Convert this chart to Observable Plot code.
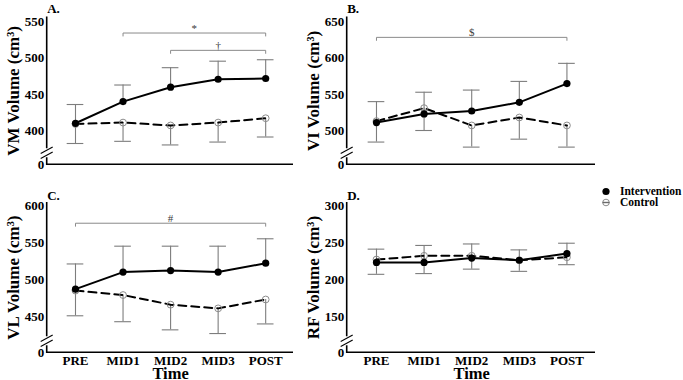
<!DOCTYPE html>
<html>
<head>
<meta charset="utf-8">
<script src="https://cdn.jsdelivr.net/npm/d3@7"></script>
<script src="https://cdn.jsdelivr.net/npm/@observablehq/plot@0.6"></script>
<style>
  body { margin: 0; background: #fff; }
  #figure { position: relative; width: 683px; height: 380px; overflow: hidden; background: #fff; }
  .panel { position: absolute; }
  .panel svg { max-width: none !important; }
  #legend { position: absolute; left: 599px; top: 186px; font-family: "Liberation Serif", "Times New Roman", serif; font-weight: bold; font-size: 11.5px; line-height: 11px; color: #000; }
  #legend div { display: flex; align-items: center; height: 11px; }
  #legend svg { width: 14px; height: 11px; margin-right: 7px; }
</style>
</head>
<body>
<div id="figure">
  <div id="legend">
    <div><svg viewBox="0 0 14 11"><circle cx="7" cy="5.5" r="3.6" fill="#000"/></svg>Intervention</div>
    <div><svg viewBox="0 0 14 11"><circle cx="7" cy="5.5" r="3.3" fill="none" stroke="#8c8c8c" stroke-width="1"/><line x1="3.5" x2="10.5" y1="5.5" y2="5.5" stroke="#6a6a6a" stroke-width="1.4"/></svg>Control</div>
  </div>
</div>
<script>
// Time points of the study
const timeLabels = ["PRE", "MID1", "MID2", "MID3", "POST"];

// VM volume (cm³): mean and SD per time point
const vmInterventionMean = [410, 440, 460, 471, 472];
const vmInterventionSD = [26, 23, 27, 25, 26];
const vmControlMean = [409, 411, 407, 411, 417];
const vmControlSD = [27, 26, 27, 27, 26];
const vmTicks = [400, 450, 500, 550];

// VI volume (cm³)
const viInterventionMean = [511, 523, 527, 539, 565];
const viInterventionSD = [29, 30, 29, 29, 28];
const viControlMean = [513, 531, 507, 518, 507];
const viControlSD = [29, 31, 30, 30, 30];
const viTicks = [500, 550, 600, 650];

// VL volume (cm³)
const vlInterventionMean = [487, 510, 512, 510, 522];
const vlInterventionSD = [34, 35, 33, 35, 33];
const vlControlMean = [485, 479, 466, 461, 473];
const vlControlSD = [34, 36, 34, 34, 33];
const vlTicks = [450, 500, 550, 600];

// RF volume (cm³)
const rfInterventionMean = [223, 223, 229, 226, 235];
const rfInterventionSD = [18, 23, 19, 14, 14];
const rfControlMean = [227, 232, 232, 226, 230];
const rfControlSD = [20, 24, 18, 15, 10];
const rfTicks = [150, 200, 250, 300];

// Significance brackets: time span, height (cm³) and symbol
const vmBrackets = [
  {from: "MID1", to: "POST", level: 535, symbol: "*"},
  {from: "MID2", to: "POST", level: 511, symbol: "†"}
];
const viBrackets = [{from: "PRE", to: "POST", level: 629, symbol: "$"}];
const vlBrackets = [{from: "PRE", to: "POST", level: 576, symbol: "#"}];
const rfBrackets = [];

const serif = "'Liberation Serif', 'Times New Roman', serif";
const barGray = "#7d7d7d";
const capHalf = 0.175;

const rows = (means, sds) => means.map((mean, i) => ({i, time: timeLabels[i], mean, sd: sds[i]}));
const idx = (t) => timeLabels.indexOf(t);

// Left axis with a break just above the "0" floor, plus the bottom axis line
function brokenAxes(...args) {
  const dims = args.find((a) => a && a.marginLeft !== undefined && a.width !== undefined);
  const {width, height, marginLeft, marginRight, marginTop, marginBottom} = dims;
  const x0 = marginLeft, x1 = width - marginRight, yb = height - marginBottom;
  const g = d3.create("svg:g").attr("fill", "none").attr("stroke", "#000");
  g.append("path")
    .attr("stroke-width", 1.6)
    .attr("d", `M${x0},${marginTop}V${yb - 16}M${x0},${yb - 7}V${yb}H${x1}`);
  for (const c of [yb - 14, yb - 9]) {
    g.append("line")
      .attr("stroke-width", 1.1)
      .attr("x1", x0 - 6).attr("y1", c + 3.2)
      .attr("x2", x0 + 6).attr("y2", c - 3.2);
  }
  return g.node();
}

function panel(cfg) {
  const {letter, title, ticks, floor, ceil, interv, control, brackets, showTime,
         width, height, marginTop, marginBottom, marginRight, xDomain, letterDy} = cfg;
  const iRows = rows(interv[0], interv[1]);
  const cRows = rows(control[0], control[1]);
  const pxPerUnit = (height - marginTop - marginBottom) / (ceil - floor);
  const tickLen = 3 / pxPerUnit;
  const bracketPts = brackets.flatMap((b, k) => [
    {k, x: idx(b.from), y: b.level - tickLen},
    {k, x: idx(b.from), y: b.level},
    {k, x: idx(b.to), y: b.level},
    {k, x: idx(b.to), y: b.level - tickLen}
  ]);
  const bracketText = brackets.map((b) => ({x: (idx(b.from) + idx(b.to)) / 2, y: b.level, symbol: b.symbol}));

  return Plot.plot({
    width, height,
    marginLeft: 46.7, marginRight, marginTop, marginBottom,
    style: {fontFamily: serif, fontSize: "13px", fontWeight: "bold", color: "#000", background: "transparent", overflow: "visible"},
    x: {type: "linear", domain: xDomain, ticks: [0, 1, 2, 3, 4], tickFormat: (i) => timeLabels[i],
        tickSize: 0, tickPadding: 2.5, label: null, axis: showTime ? "bottom" : null},
    y: {domain: [floor, ceil], ticks: [floor, ...ticks], tickFormat: (d) => (d === floor ? "0" : d),
        tickSize: 0, tickPadding: 3, label: null},
    marks: [
      brokenAxes,
      // significance brackets
      Plot.line(bracketPts, {x: "x", y: "y", z: "k", stroke: "#8a8a8a", strokeWidth: 1}),
      Plot.text(bracketText, {x: "x", y: "y", text: "symbol", lineAnchor: "bottom", dy: -1.5, fill: "#3a3a3a", fontSize: 11, fontWeight: "normal"}),
      // error bars: intervention upward, control downward
      Plot.ruleX(iRows, {x: "i", y1: "mean", y2: (d) => d.mean + d.sd, stroke: barGray, strokeWidth: 1.1}),
      Plot.ruleY(iRows, {x1: (d) => d.i - capHalf, x2: (d) => d.i + capHalf, y: (d) => d.mean + d.sd, stroke: barGray, strokeWidth: 1.1}),
      Plot.ruleX(cRows, {x: "i", y1: "mean", y2: (d) => d.mean - d.sd, stroke: barGray, strokeWidth: 1.1}),
      Plot.ruleY(cRows, {x1: (d) => d.i - capHalf, x2: (d) => d.i + capHalf, y: (d) => d.mean - d.sd, stroke: barGray, strokeWidth: 1.1}),
      // control: dashed line, open circles
      Plot.line(cRows, {x: "i", y: "mean", stroke: "#000", strokeWidth: 2, strokeDasharray: "8,5"}),
      Plot.dot(cRows, {x: "i", y: "mean", r: 3.4, stroke: "#8c8c8c", fill: "none", strokeWidth: 1}),
      // intervention: solid line, filled circles
      Plot.line(iRows, {x: "i", y: "mean", stroke: "#000", strokeWidth: 2}),
      Plot.dot(iRows, {x: "i", y: "mean", r: 3.6, fill: "#000"}),
      // panel letter, y-axis title, x-axis title
      Plot.text([letter], {frameAnchor: "top-left", textAnchor: "start", lineAnchor: "bottom", dy: letterDy, fontSize: 13}),
      Plot.text([title], {frameAnchor: "left", textAnchor: "middle", rotate: -90, dx: -34, lineAnchor: "middle", fontSize: 17}),
      ...(showTime ? [Plot.text(["Time"], {x: 2, frameAnchor: "bottom", lineAnchor: "bottom", dy: 25.7, fontSize: 16.5})] : [])
    ]
  });
}

const topRow = {height: 180, marginTop: 16.5, marginBottom: 15.7, showTime: false, letterDy: -4};
const bottomRow = {height: 200, marginTop: 22, marginBottom: 27.7, showTime: true, letterDy: -2.8};
const leftCol = {width: 300, marginRight: 7, xDomain: [-0.595, 4.585]};
const rightCol = {width: 383, marginRight: 88, xDomain: [-0.615, 4.6]};

const panels = [
  {pos: [0, 0], ...topRow, ...leftCol, letter: "A.", title: "VM Volume (cm³)", ticks: vmTicks, floor: 352.5, ceil: 557.2,
   interv: [vmInterventionMean, vmInterventionSD], control: [vmControlMean, vmControlSD], brackets: vmBrackets},
  {pos: [300, 0], ...topRow, ...rightCol, letter: "B.", title: "VI Volume (cm³)", ticks: viTicks, floor: 452.5, ceil: 657.2,
   interv: [viInterventionMean, viInterventionSD], control: [viControlMean, viControlSD], brackets: viBrackets},
  {pos: [0, 180], ...bottomRow, ...leftCol, letter: "C.", title: "VL Volume (cm³)", ticks: vlTicks, floor: 401, ceil: 604,
   interv: [vlInterventionMean, vlInterventionSD], control: [vlControlMean, vlControlSD], brackets: vlBrackets},
  {pos: [300, 180], ...bottomRow, ...rightCol, letter: "D.", title: "RF Volume (cm³)", ticks: rfTicks, floor: 101, ceil: 304,
   interv: [rfInterventionMean, rfInterventionSD], control: [rfControlMean, rfControlSD], brackets: rfBrackets}
];

const fig = document.getElementById("figure");
for (const p of panels) {
  const div = document.createElement("div");
  div.className = "panel";
  div.style.left = p.pos[0] + "px";
  div.style.top = p.pos[1] + "px";
  div.style.width = p.width + "px";
  div.style.height = p.height + "px";
  div.appendChild(panel(p));
  fig.insertBefore(div, document.getElementById("legend"));
}
</script>
</body>
</html>
